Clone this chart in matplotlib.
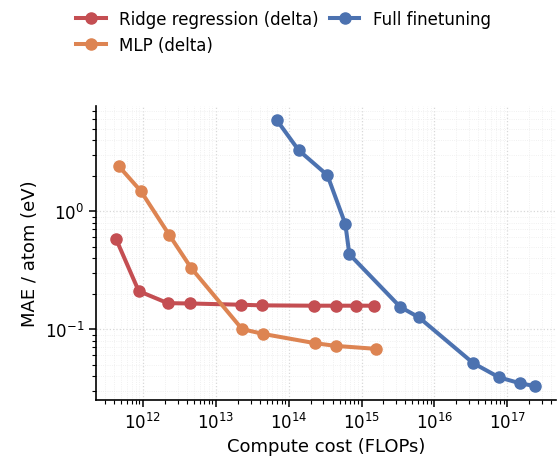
import matplotlib
matplotlib.use("Agg")
import matplotlib.pyplot as plt
from matplotlib.ticker import LogLocator

# data
ridge_flops = [4.3e11, 8.8e11, 2.2e12, 4.4e12, 2.2e13, 4.3e13, 2.2e14, 4.4e14, 8.4e14, 1.5e15]
ridge_mae = [0.58, 0.21, 0.166, 0.165, 0.161, 0.159, 0.158, 0.158, 0.158, 0.158]

mlp_flops = [4.7e11, 9.4e11, 2.3e12, 4.6e12, 2.3e13, 4.5e13, 2.3e14, 4.5e14, 1.6e15]
mlp_mae = [2.4, 1.48, 0.63, 0.33, 0.100, 0.091, 0.076, 0.072, 0.068]

ft_flops = [6.9e13, 1.37e14, 3.4e14, 6.0e14, 6.8e14, 3.4e15, 6.1e15, 3.4e16, 7.7e16, 1.48e17, 2.37e17]
ft_mae = [5.9, 3.29, 2.02, 0.776, 0.432, 0.154, 0.126, 0.0515, 0.039, 0.0348, 0.0329]

xticks = [1e12, 1e13, 1e14, 1e15, 1e16, 1e17]
yticks = [1e-1, 1e0]

red = "#C44E52"
orange = "#DD8452"
blue = "#4C72B0"

fig = plt.figure(figsize=(5.59, 4.64), dpi=100)
ax = fig.add_axes([0.172, 0.136, 0.823, 0.633])

kw = dict(marker="o", markersize=8, linewidth=2.9)
ax.plot(ridge_flops, ridge_mae, color=red, label="Ridge regression (delta)", **kw)
ax.plot(mlp_flops, mlp_mae, color=orange, label="MLP (delta)", **kw)
ax.plot(ft_flops, ft_mae, color=blue, label="Full finetuning", **kw)

ax.set_xscale("log")
ax.set_yscale("log")
ax.set_xlim(10**11.36, 10**17.67)
ax.set_ylim(10**-1.60, 10**0.89)

ax.set_xticks(xticks)
ax.set_yticks(yticks)
ax.xaxis.set_minor_locator(LogLocator(base=10, subs=range(2, 10), numticks=100))
ax.yaxis.set_minor_locator(LogLocator(base=10, subs=range(2, 10), numticks=100))

ax.grid(True, which="major", linestyle=":", linewidth=0.9, color="#d8d8d8")
ax.grid(True, which="minor", linestyle=":", linewidth=0.6, color="#ececec")
ax.set_axisbelow(True)

for s in ["top", "right"]:
    ax.spines[s].set_visible(False)
for s in ["left", "bottom"]:
    ax.spines[s].set_linewidth(1.2)

ax.tick_params(which="major", length=5, width=1.1, labelsize=12)
ax.tick_params(which="minor", length=3, width=0.8)

ax.set_xlabel("Compute cost (FLOPs)", fontsize=13)
ax.set_ylabel("MAE / atom (eV)", fontsize=13)

fig.legend(loc="upper left", bbox_to_anchor=(0.11, 1.008), ncol=2, frameon=False,
           fontsize=12, handlelength=1.75, columnspacing=0.7, handletextpad=0.8,
           labelspacing=0.45)

fig.savefig("out.png", dpi=100)
